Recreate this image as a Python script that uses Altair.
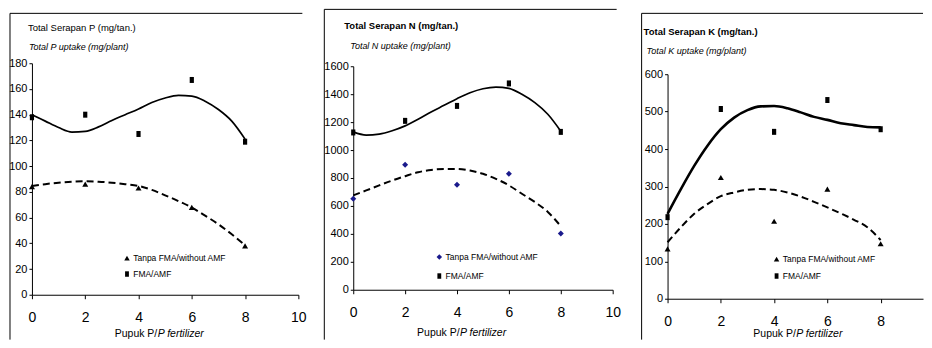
import altair as alt
import pandas as pd

# ---------------- data ----------------
x_pts = [0, 2, 4, 6, 8]
p_amf = [138, 140, 125, 167, 119]
p_noamf = [84, 86, 83, 68, 38]
n_amf = [1126, 1209, 1316, 1477, 1130]
n_noamf = [652, 894, 752, 830, 403]
k_amf = [218, 507, 446, 531, 453]
k_noamf = [133, 324, 207, 293, 147]

trend_x = [0, 0.5, 1, 1.5, 2, 2.5, 3, 3.5, 4, 4.5, 5, 5.5, 6, 6.5, 7, 7.5, 8]
p_amf_trend = [140, 135, 130, 126.5, 127, 130.5, 135.5, 140, 144.5, 149.5, 153, 155, 154.5, 150.5, 144, 135, 121]
p_noamf_trend = [84.6, 86, 87.1, 87.8, 88.2, 87.9, 87.1, 86, 84.6, 81.5, 77.3, 72.8, 67.8, 61.5, 54.8, 47, 38.5]
n_amf_trend = [1130, 1107, 1114, 1138, 1173, 1221, 1273, 1320, 1368, 1410, 1439, 1451, 1441, 1399, 1339, 1256, 1135]
n_noamf_trend = [676, 711, 747, 782, 813, 841, 858, 865, 865, 853, 830, 794, 747, 687, 628, 557, 455]
k_amf_trend = [227, 293, 355, 409, 453, 484, 504, 514, 515, 509, 498, 486, 478, 469, 464, 459, 458]
k_noamf_trend = [151, 191, 227, 253, 274, 284, 291, 293, 291, 284, 273, 259, 244, 228, 211, 191, 157]

series_names = ["Tanpa FMA/without AMF", "FMA/AMF"]
x_ticks_full = [0, 2, 4, 6, 8, 10]
x_ticks_cut = [0, 2, 4, 6, 8]

titles_1 = ["Total Serapan P (mg/tan.)", "Total Serapan N (mg/tan.)", "Total Serapan K (mg/tan.)"]
titles_2 = ["Total P uptake (mg/plant)", "Total N uptake (mg/plant)", "Total K uptake (mg/plant)"]
xtitle_a = "Pupuk P/"
xtitle_b = "P fertilizer"

FONT = "Liberation Sans"
RECT = "M-0.7,-1H0.7V1H-0.7Z"
VIEW_H = 227
BOX_BOTTOM = 277


def text_layer(txt, x, y, size, weight="normal", style="normal"):
    return alt.Chart(pd.DataFrame({"t": [txt]})).mark_text(
        align="left", baseline="middle", font=FONT, fontSize=size,
        fontWeight=weight, fontStyle=style, color="black"
    ).encode(x=alt.value(x), y=alt.value(y), text="t:N")


def rule_v(x, y0, y1):
    return alt.Chart(pd.DataFrame({"a": [0]})).mark_rule(color="black", strokeWidth=1).encode(
        x=alt.value(x), y=alt.value(y0), y2=alt.value(y1))


def rule_h(x0, x1, y):
    return alt.Chart(pd.DataFrame({"a": [0]})).mark_rule(color="black", strokeWidth=1).encode(
        x=alt.value(x0), x2=alt.value(x1), y=alt.value(y))


def make_panel(i, amf, noamf, amf_tr, noamf_tr, ymax, ystep, w, xmax, xticks, yrange, xoff,
               box, title_pos, title_bold, shapes, colors, leg_xy, leg_pad,
               xt_pos, solid_w):
    xs = alt.Scale(domain=[0, xmax], nice=False, zero=False)
    ys = alt.Scale(domain=[0, ymax], nice=False, zero=True, range=yrange)
    xaxis = alt.Axis(values=xticks, format="d", labelFont=FONT, labelFontSize=14,
                     labelColor="black", tickColor="black", domainColor="black",
                     tickSize=4, labelPadding=12, grid=False, title=None, offset=xoff,
                     labelFlush=False, labelOverlap=False)
    yaxis = alt.Axis(values=list(range(0, ymax + 1, ystep)), format="d", labelFont=FONT,
                     labelFontSize=11, labelColor="black", tickColor="black",
                     domainColor="black", tickSize=3, labelPadding=2, grid=False,
                     title=None, labelOverlap=False)

    pts = pd.DataFrame({
        "x": x_pts + x_pts,
        "v": noamf + amf,
        "series": [series_names[0]] * 5 + [series_names[1]] * 5,
    })
    tr_amf = pd.DataFrame({"x": trend_x, "v": amf_tr})
    tr_no = pd.DataFrame({"x": trend_x, "v": noamf_tr})

    leg = alt.Legend(orient="none", legendX=leg_xy[0], legendY=leg_xy[1], title=None,
                     labelFont=FONT, labelFontSize=8.5, labelColor="black",
                     symbolSize=30, rowPadding=leg_pad, padding=0, labelOffset=2,
                     labelLimit=0, symbolStrokeWidth=0)

    solid = alt.Chart(tr_amf).mark_line(color="black", strokeWidth=solid_w,
                                        interpolate="monotone").encode(
        x=alt.X("x:Q", scale=xs, axis=xaxis), y=alt.Y("v:Q", scale=ys, axis=yaxis))
    dashed = alt.Chart(tr_no).mark_line(color="black", strokeWidth=2, strokeDash=[7, 4],
                                        interpolate="monotone").encode(
        x=alt.X("x:Q", scale=xs, axis=xaxis), y=alt.Y("v:Q", scale=ys, axis=yaxis))
    points = alt.Chart(pts).mark_point(filled=True, opacity=1, size=36).encode(
        x=alt.X("x:Q", scale=xs, axis=xaxis),
        y=alt.Y("v:Q", scale=ys, axis=yaxis),
        shape=alt.Shape("series:N", scale=alt.Scale(domain=series_names, range=shapes), legend=leg),
        color=alt.Color("series:N", scale=alt.Scale(domain=series_names, range=colors), legend=leg),
    )
    xa = text_layer(xtitle_a, xt_pos[0], xt_pos[1], 10.5)
    xb = text_layer(xtitle_b, xt_pos[0] + 43, xt_pos[1], 10.5, style="italic")

    bx0, bx1, by0 = box
    frame = [rule_v(bx0, by0, BOX_BOTTOM), rule_h(bx0, bx1, by0)]
    if bx1 < w:
        frame.append(rule_v(bx1, by0, BOX_BOTTOM))
    t1 = text_layer(titles_1[i], title_pos[0], title_pos[1], 9.5,
                    weight="bold" if title_bold else "normal")
    t2 = text_layer(titles_2[i], title_pos[2], title_pos[3], 9, style="italic")
    return alt.layer(*frame, t1, t2, solid, dashed, points, xa, xb).properties(
        width=w, height=VIEW_H)


p1 = make_panel(0, p_amf, p_noamf, p_amf_trend, p_noamf_trend, 180, 20, 267, 10, x_ticks_full,
                [232, 0], 5, (-22, 271, -50), (-4, -35, -3, -16), False,
                ["triangle-up", RECT], ["black", "black"], (91, 191), 7, (83, 271), 1.7)
p2 = make_panel(1, n_amf, n_noamf, n_amf_trend, n_noamf_trend, 1600, 200, 260, 10, x_ticks_full,
                [227, 3], 0, (-29, 264, -54), (-9, -37, -3, -17), True,
                ["diamond", RECT], ["#1a1a8c", "black"], (82, 190), 10, (64, 270), 1.7)
p3 = make_panel(2, k_amf, k_noamf, k_amf_trend, k_noamf_trend, 600, 100, 256, 9.59, x_ticks_cut,
                [236, 11], 9, (-26, 256, -50), (-24, -31, -21, -12), True,
                ["triangle-up", RECT], ["black", "black"], (105, 192), 8, (86, 271), 2.6)

chart = alt.hconcat(p1, p2, p3, spacing=55, bounds="flush").resolve_scale(
    color="independent", shape="independent"
).resolve_legend(color="independent", shape="independent").properties(
    padding={"left": 0, "top": 0, "right": 0, "bottom": 0}
).configure_view(stroke=None)

chart.save("out.html", embed_options={"renderer": "svg", "actions": False})
